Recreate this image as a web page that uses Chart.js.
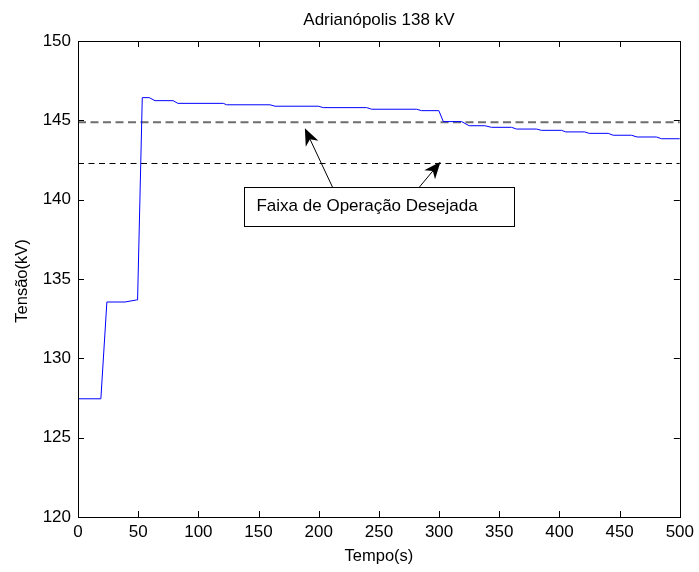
<!DOCTYPE html>
<html>
<head>
<meta charset="utf-8">
<script src="https://cdn.jsdelivr.net/npm/chart.js@4/dist/chart.umd.min.js"></script>
<style>
  html, body { margin: 0; padding: 0; background: #fff; }
  #wrap { width: 699px; height: 572px; position: relative; }
</style>
</head>
<body>
<div id="wrap"><canvas id="c" width="699" height="572"></canvas></div>
<script>
// ---- Data ----
const chartTitle = 'Adrianópolis 138 kV';
const xAxisLabel = 'Tempo(s)';
const yAxisLabel = 'Tensão(kV)';
const annotationText = 'Faixa de Operação Desejada';

const timeS = [0, 19, 24, 39, 48.7, 49.5, 53.4, 59.2, 64, 79, 83, 120.7, 123.5, 159.5, 163.6,
  199.6, 203.8, 239.8, 244, 281.3, 285.4, 299.8, 303.5, 318.7, 325, 338, 343.6, 360.2, 364.4,
  381, 385, 401.7, 405.3, 421, 424.7, 440.5, 444.6, 459.9, 464.5, 480.6, 484.8, 500];
const voltageKV = [127.45, 127.45, 133.55, 133.55, 133.68, 133.68, 146.43, 146.43, 146.24, 146.24,
  146.07, 146.07, 145.98, 145.98, 145.89, 145.89, 145.80, 145.80, 145.70, 145.70, 145.61, 145.61,
  144.92, 144.92, 144.66, 144.66, 144.56, 144.56, 144.45, 144.45, 144.37, 144.37, 144.27, 144.27,
  144.18, 144.18, 144.06, 144.06, 143.95, 143.95, 143.84, 143.84];

const bandTime = [0, 500];
const upperLimitKV = [144.88, 144.88];
const lowerLimitKV = [142.28, 142.28];

const xTicks = [0, 50, 100, 150, 200, 250, 300, 350, 400, 450, 500];
const yTicks = [120, 125, 130, 135, 140, 145, 150];

// ---- Build datasets ----
const toPts = (xs, ys) => xs.map((x, i) => ({ x: x, y: ys[i] }));

const FONT = "'Liberation Sans', Arial, sans-serif";

const matlabPlugin = {
  id: 'matlabDecor',
  afterDraw(chart) {
    const { ctx, chartArea: a, scales } = chart;
    const xs = scales.x, ys = scales.y;
    ctx.save();
    // frame
    ctx.strokeStyle = '#000';
    ctx.lineWidth = 1;
    ctx.strokeRect(Math.round(a.left) + 0.5, Math.round(a.top) + 0.5,
                   Math.round(a.right - a.left), Math.round(a.bottom - a.top));
    // inward ticks on all sides
    const tl = 6;
    ctx.beginPath();
    xTicks.forEach(v => {
      const px = Math.round(xs.getPixelForValue(v)) + 0.5;
      ctx.moveTo(px, a.bottom); ctx.lineTo(px, a.bottom - tl);
      ctx.moveTo(px, a.top); ctx.lineTo(px, a.top + tl);
    });
    yTicks.forEach(v => {
      const py = Math.round(ys.getPixelForValue(v)) + 0.5;
      ctx.moveTo(a.left, py); ctx.lineTo(a.left + tl, py);
      ctx.moveTo(a.right, py); ctx.lineTo(a.right - tl, py);
    });
    ctx.stroke();

    // title & axis labels
    ctx.fillStyle = '#000';
    ctx.textAlign = 'center';
    ctx.textBaseline = 'middle';
    ctx.font = '17px ' + FONT;
    ctx.fillText(chartTitle, (a.left + a.right) / 2, 20);
    ctx.font = '16.5px ' + FONT;
    ctx.fillText(xAxisLabel, (a.left + a.right) / 2, 556);
    ctx.save();
    ctx.translate(22, 281);
    ctx.rotate(-Math.PI / 2);
    ctx.fillText(yAxisLabel, 0, 0);
    ctx.restore();

    // annotation box (data coordinates)
    const bx0 = xs.getPixelForValue(137.9), bx1 = xs.getPixelForValue(362.1);
    const by0 = ys.getPixelForValue(140.78), by1 = ys.getPixelForValue(138.34);
    ctx.fillStyle = '#fff';
    ctx.fillRect(bx0, by0, bx1 - bx0, by1 - by0);
    ctx.strokeStyle = '#000';
    ctx.lineWidth = 1;
    ctx.strokeRect(Math.round(bx0) + 0.5, Math.round(by0) + 0.5, Math.round(bx1 - bx0), Math.round(by1 - by0));
    ctx.fillStyle = '#000';
    ctx.textAlign = 'left';
    ctx.font = '17px ' + FONT;
    ctx.fillText(annotationText, bx0 + 12.5, (by0 + by1) / 2);

    // arrows
    const arrows = [
      [211.5, 140.78, 188.5, 144.5],
      [283.5, 140.78, 301.2, 142.39]
    ];
    arrows.forEach(([t0, v0, t1, v1]) => {
      const x0 = xs.getPixelForValue(t0), y0 = ys.getPixelForValue(v0);
      const x1 = xs.getPixelForValue(t1), y1 = ys.getPixelForValue(v1);
      const ang = Math.atan2(y1 - y0, x1 - x0);
      const L = 17, W = 7, notch = 12;
      ctx.beginPath();
      ctx.moveTo(x0, y0);
      ctx.lineTo(x1 - notch * Math.cos(ang), y1 - notch * Math.sin(ang));
      ctx.strokeStyle = '#000';
      ctx.lineWidth = 1;
      ctx.stroke();
      const bxp = x1 - L * Math.cos(ang), byp = y1 - L * Math.sin(ang);
      const nx = -Math.sin(ang), ny = Math.cos(ang);
      ctx.beginPath();
      ctx.moveTo(x1, y1);
      ctx.lineTo(bxp + W * nx, byp + W * ny);
      ctx.lineTo(x1 - notch * Math.cos(ang), y1 - notch * Math.sin(ang));
      ctx.lineTo(bxp - W * nx, byp - W * ny);
      ctx.closePath();
      ctx.fillStyle = '#000';
      ctx.fill();
    });
    ctx.restore();
  }
};

new Chart(document.getElementById('c'), {
  type: 'line',
  data: {
    datasets: [
      {
        label: 'Tensão',
        data: toPts(timeS, voltageKV),
        borderColor: '#0000ff',
        borderWidth: 1,
        pointRadius: 0,
        tension: 0,
        fill: false
      },
      {
        label: 'Limite superior',
        data: toPts(bandTime, upperLimitKV),
        borderColor: '#6e6e6e',
        borderWidth: 1.8,
        borderDash: [8, 4.5],
        pointRadius: 0,
        fill: false
      },
      {
        label: 'Limite inferior',
        data: toPts(bandTime, lowerLimitKV),
        borderColor: '#000',
        borderWidth: 1,
        borderDash: [6, 4.5],
        pointRadius: 0,
        fill: false
      }
    ]
  },
  options: {
    responsive: false,
    animation: false,
    devicePixelRatio: 1,
    layout: { padding: { top: 41, right: 19, left: 0, bottom: 0 } },
    plugins: {
      legend: { display: false },
      title: { display: false },
      tooltip: { enabled: false }
    },
    scales: {
      x: {
        type: 'linear',
        min: 0, max: 500,
        afterFit(s) { s.height = 55; },
        afterBuildTicks(s) { s.ticks = xTicks.map(v => ({ value: v })); },
        ticks: { color: '#000', font: { size: 17, family: FONT }, padding: 5, maxRotation: 0, autoSkip: false },
        grid: { display: false, drawTicks: false },
        border: { display: false }
      },
      y: {
        type: 'linear',
        min: 120, max: 150,
        afterFit(s) { s.width = 78; },
        afterBuildTicks(s) { s.ticks = yTicks.map(v => ({ value: v })); },
        ticks: { color: '#000', font: { size: 17, family: FONT }, padding: 7, autoSkip: false },
        grid: { display: false, drawTicks: false },
        border: { display: false }
      }
    }
  },
  plugins: [matlabPlugin]
});
</script>
</body>
</html>
